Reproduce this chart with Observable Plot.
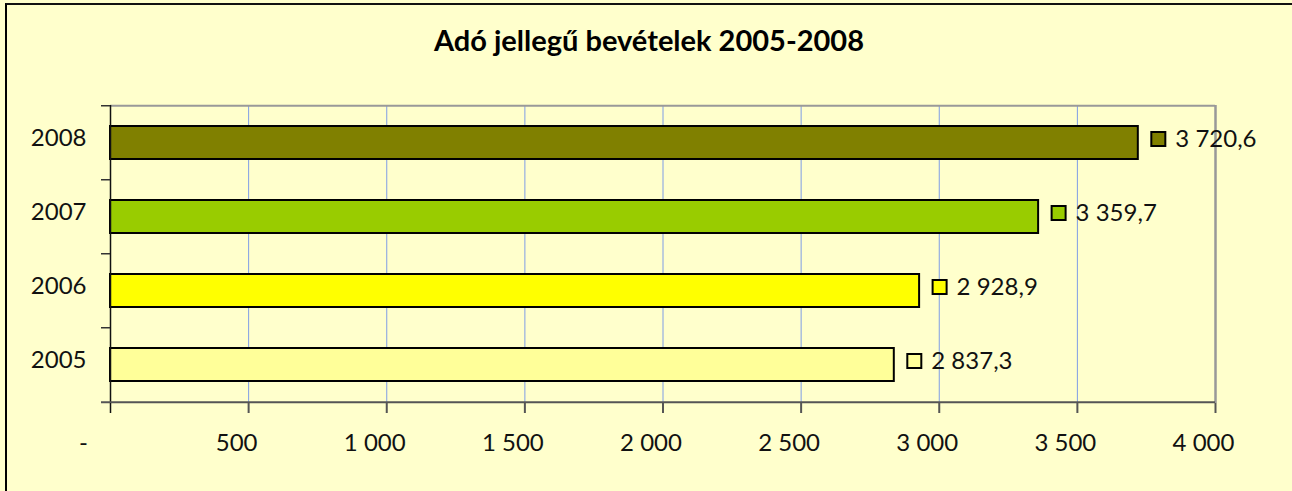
<!DOCTYPE html>
<html>
<head>
<meta charset="utf-8">
<script src="https://cdn.jsdelivr.net/npm/d3@7"></script>
<script src="https://cdn.jsdelivr.net/npm/@observablehq/plot@0.6"></script>
<style>
  html, body { margin: 0; padding: 0; background: #FFFFCC; }
  #wrap { position: relative; width: 1292px; height: 491px; overflow: hidden; background: #FFFFCC; font-family: Lato, "Liberation Sans", sans-serif; }
  #title { height: 62px; box-sizing: border-box; padding-top: 25px; text-align: center; font-size: 29px; line-height: 29px; font-weight: bold; color: #000; padding-left: 6px; }
  #border { position: absolute; left: 5px; top: 3px; width: 1290px; height: 500px; border-left: 2px solid #000; border-top: 2px solid #111; border-right: 2px solid #444; pointer-events: none; }
  svg { display: block; }
</style>
</head>
<body>
<div id="wrap">
  <div id="title">Adó jellegű bevételek 2005-2008</div>
  <div id="chart"></div>
  <div id="border"></div>
</div>
<script>
// Data
const years = ["2008", "2007", "2006", "2005"];
const values = [3720.6, 3359.7, 2928.9, 2837.3];
const colors = ["#808000", "#99CC00", "#FFFF00", "#FFFF99"];
const xTicks = [0, 500, 1000, 1500, 2000, 2500, 3000, 3500, 4000];
const gridTicks = [500, 1000, 1500, 2000, 2500, 3000, 3500];

const data = years.map((y, i) => ({year: y, value: values[i], color: colors[i]}));

const W = 1292, H = 429;
const mTop = 43, mBottom = 88, mLeft = 110, mRight = 77;
const step = (H - mTop - mBottom) / years.length;

const fmtNum = d3.formatLocale({decimal: ",", thousands: " ", grouping: [3]});
const fmtTick = d => d === 0 ? "-" : fmtNum.format(",.0f")(d);
const fmtVal = d => fmtNum.format(",.1f")(d);

const font = "Lato, 'Liberation Sans', sans-serif";
const fs = 24;

const plot = Plot.plot({
  width: W,
  height: H,
  marginTop: mTop,
  marginBottom: mBottom,
  marginLeft: mLeft,
  marginRight: mRight,
  style: {background: "#FFFFCC", fontFamily: font, fontSize: fs + "px", color: "#000", overflow: "visible"},
  x: {domain: [0, 4000], axis: null},
  y: {domain: years, paddingInner: 0.55, paddingOuter: 0.275, align: 0.5, axis: null},
  marks: [
    // grid lines
    Plot.ruleX(gridTicks, {stroke: "#7f9de6", strokeWidth: 1}),
    // top & right gray frame
    Plot.ruleY([years[0]], {dy: -step / 2, stroke: "#999", strokeWidth: 2}),
    Plot.ruleX([4000], {stroke: "#999", strokeWidth: 2.5}),
    // bars
    Plot.barX(data, {y: "year", x: "value", fill: "color", stroke: "#000", strokeWidth: 2}),
    // left axis line
    Plot.ruleX([0], {stroke: "#111", strokeWidth: 1.5}),
    // bottom axis line
    Plot.ruleY([years[years.length - 1]], {dy: step / 2, stroke: "#555", strokeWidth: 2}),
    // y ticks at band boundaries
    Plot.axisY({tickSize: 9, tickFormat: () => "", dy: -step / 2, stroke: "#333", strokeWidth: 1.5, label: null}),
    Plot.axisY([years[years.length - 1]], {tickSize: 9, tickFormat: () => "", dy: step / 2, stroke: "#555", strokeWidth: 2, label: null}),
    // y labels
    Plot.axisY({tickSize: 0, tickPadding: 24, dy: -5, fontSize: fs, label: null, fill: "#111"}),
    // x ticks
    Plot.axisX(xTicks.slice(1), {tickSize: 10, tickFormat: () => "", stroke: "#555", strokeWidth: 2, label: null}),
    Plot.axisX([0], {tickSize: 10, tickFormat: () => "", stroke: "#111", strokeWidth: 1.5, label: null}),
    // x labels
    Plot.text(xTicks.slice(1), {x: d => d, text: fmtTick, frameAnchor: "bottom", dy: 47, dx: -12, fontSize: fs, fill: "#111"}),
    Plot.text([0], {x: d => d, text: fmtTick, frameAnchor: "bottom", dy: 47, dx: -27, fontSize: fs, fill: "#111"}),
    // value label keys
    Plot.dot(data, {y: "year", x: "value", symbol: "square", r: 7.9, fill: "color", stroke: "#000", strokeWidth: 2, dx: 20, dy: -4}),
    // value labels
    Plot.text(data, {y: "year", x: "value", text: d => fmtVal(d.value), textAnchor: "start", dx: 37, dy: -4, fontSize: fs, fill: "#111"})
  ]
});
document.getElementById("chart").appendChild(plot);
</script>
</body>
</html>
